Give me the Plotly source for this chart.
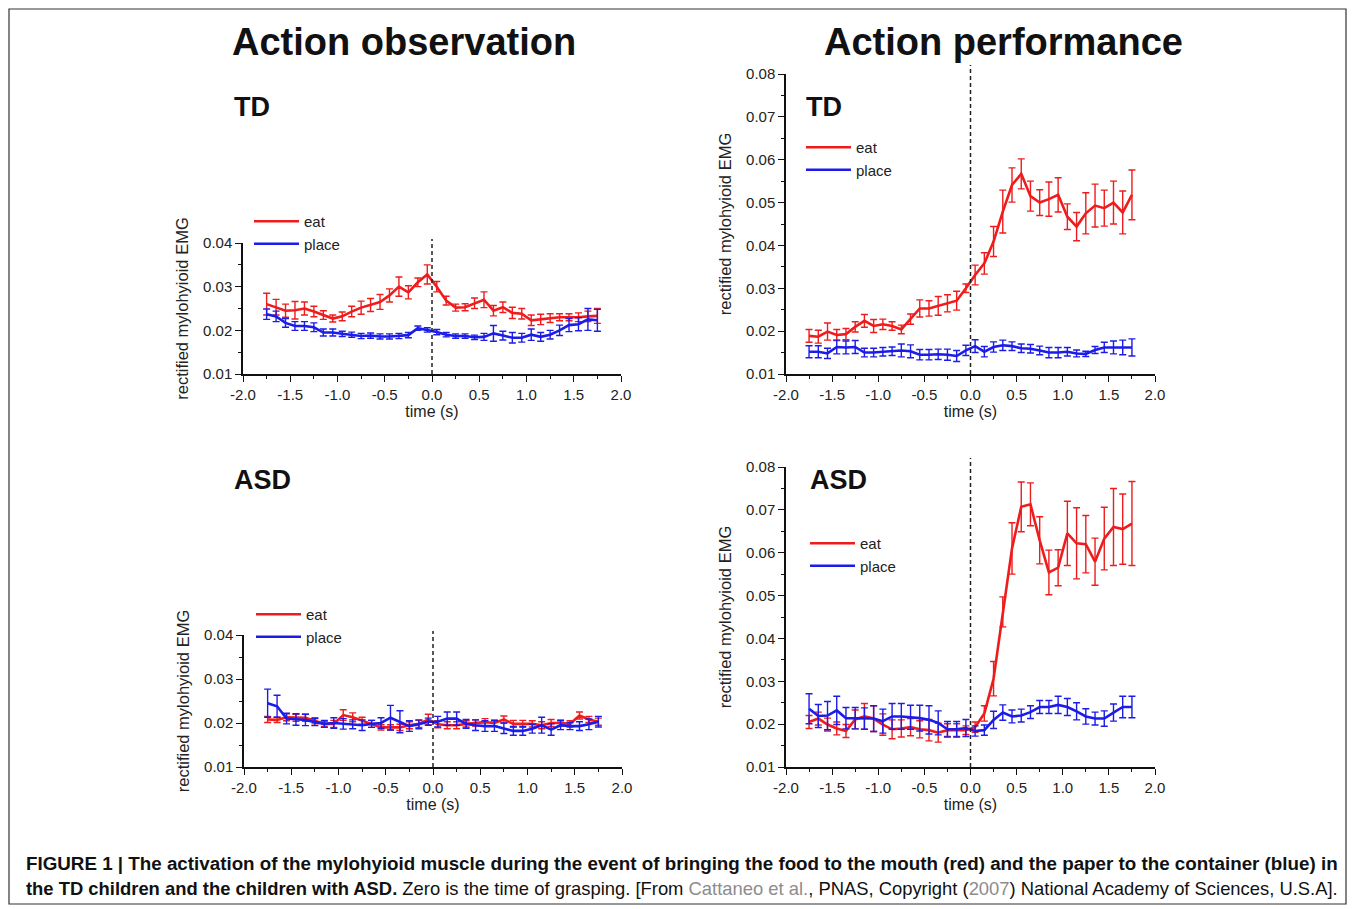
import plotly.graph_objects as go

# page is laid out with an 8px body margin, so the figure is sized to fit the window
OX, OY = 8, 8
FW, FH = 1339, 898
FONT = "Liberation Sans, Arial, sans-serif"
RED = "rgb(238,28,28)"
BLUE = "rgb(28,28,232)"

# ---------------- data ----------------
time_s = [-1.75, -1.65, -1.55, -1.45, -1.35, -1.25, -1.15, -1.05, -0.95, -0.85,
          -0.75, -0.65, -0.55, -0.45, -0.35, -0.25, -0.15, -0.05, 0.05, 0.15,
          0.25, 0.35, 0.45, 0.55, 0.65, 0.75, 0.85, 0.95, 1.05, 1.15,
          1.25, 1.35, 1.45, 1.55, 1.65, 1.75]

# Action observation - TD
obs_td_eat = [0.0260, 0.0253, 0.0245, 0.0246, 0.0250, 0.0243, 0.0235, 0.0227, 0.0232, 0.0243,
              0.0252, 0.0258, 0.0265, 0.0280, 0.0300, 0.0287, 0.0310, 0.0328, 0.0300, 0.0268,
              0.0252, 0.0253, 0.0262, 0.0270, 0.0245, 0.0253, 0.0240, 0.0238, 0.0223, 0.0225,
              0.0228, 0.0230, 0.0230, 0.0230, 0.0232, 0.0233]
obs_td_eat_err = [0.0025, 0.0018, 0.0015, 0.0020, 0.0015, 0.0012, 0.0010, 0.0008, 0.0010, 0.0012,
                  0.0015, 0.0015, 0.0017, 0.0015, 0.0022, 0.0015, 0.0010, 0.0022, 0.0012, 0.0010,
                  0.0008, 0.0008, 0.0012, 0.0018, 0.0012, 0.0012, 0.0013, 0.0012, 0.0012, 0.0012,
                  0.0010, 0.0008, 0.0008, 0.0010, 0.0012, 0.0017]
obs_td_place = [0.0237, 0.0232, 0.0217, 0.0210, 0.0210, 0.0207, 0.0195, 0.0195, 0.0192, 0.0190,
                0.0187, 0.0188, 0.0186, 0.0186, 0.0187, 0.0189, 0.0205, 0.0201, 0.0196, 0.0190,
                0.0187, 0.0187, 0.0184, 0.0185, 0.0193, 0.0188, 0.0183, 0.0183, 0.0190, 0.0185,
                0.0190, 0.0200, 0.0212, 0.0214, 0.0225, 0.0223]
obs_td_place_err = [0.0012, 0.0012, 0.0010, 0.0010, 0.0010, 0.0010, 0.0008, 0.0008, 0.0006, 0.0006,
                    0.0006, 0.0006, 0.0006, 0.0006, 0.0006, 0.0006, 0.0005, 0.0005, 0.0006, 0.0005,
                    0.0005, 0.0005, 0.0005, 0.0008, 0.0018, 0.0010, 0.0012, 0.0010, 0.0013, 0.0010,
                    0.0010, 0.0012, 0.0015, 0.0015, 0.0025, 0.0025]

# Action performance - TD
perf_td_eat = [0.0189, 0.0187, 0.0199, 0.0191, 0.0193, 0.0210, 0.0224, 0.0212, 0.0216, 0.0212,
               0.0204, 0.0228, 0.0253, 0.0253, 0.0259, 0.0265, 0.0271, 0.0300, 0.0331, 0.0358,
               0.0409, 0.0479, 0.0541, 0.0567, 0.0515, 0.0500, 0.0508, 0.0518, 0.0467, 0.0444,
               0.0475, 0.0493, 0.0487, 0.0500, 0.0477, 0.0518]
perf_td_eat_err = [0.0015, 0.0015, 0.0020, 0.0013, 0.0013, 0.0012, 0.0015, 0.0015, 0.0012, 0.0010,
                   0.0010, 0.0012, 0.0020, 0.0018, 0.0022, 0.0020, 0.0022, 0.0010, 0.0023, 0.0025,
                   0.0035, 0.0050, 0.0040, 0.0035, 0.0035, 0.0030, 0.0040, 0.0040, 0.0030, 0.0033,
                   0.0048, 0.0050, 0.0042, 0.0050, 0.0050, 0.0058]
perf_td_place = [0.0152, 0.0152, 0.0148, 0.0163, 0.0162, 0.0163, 0.0150, 0.0150, 0.0152, 0.0153,
                 0.0155, 0.0153, 0.0145, 0.0145, 0.0146, 0.0145, 0.0142, 0.0155, 0.0165, 0.0152,
                 0.0163, 0.0167, 0.0165, 0.0160, 0.0159, 0.0155, 0.0150, 0.0150, 0.0152, 0.0148,
                 0.0147, 0.0156, 0.0162, 0.0162, 0.0162, 0.0162]
perf_td_place_err = [0.0014, 0.0014, 0.0012, 0.0016, 0.0015, 0.0015, 0.0010, 0.0010, 0.0010, 0.0010,
                     0.0015, 0.0015, 0.0012, 0.0012, 0.0012, 0.0013, 0.0013, 0.0012, 0.0015, 0.0012,
                     0.0012, 0.0012, 0.0010, 0.0010, 0.0010, 0.0010, 0.0012, 0.0012, 0.0010, 0.0008,
                     0.0006, 0.0008, 0.0012, 0.0015, 0.0017, 0.0020]

# Action observation - ASD
obs_asd_eat = [0.0208, 0.0207, 0.0213, 0.0212, 0.0212, 0.0205, 0.0198, 0.0198, 0.0218, 0.0213,
               0.0205, 0.0198, 0.0190, 0.0190, 0.0190, 0.0195, 0.0198, 0.0208, 0.0197, 0.0195,
               0.0195, 0.0198, 0.0200, 0.0202, 0.0200, 0.0208, 0.0198, 0.0198, 0.0198, 0.0195,
               0.0200, 0.0200, 0.0198, 0.0217, 0.0208, 0.0203]
obs_asd_eat_err = [0.0007, 0.0006, 0.0008, 0.0008, 0.0008, 0.0007, 0.0006, 0.0008, 0.0012, 0.0010,
                   0.0008, 0.0008, 0.0006, 0.0006, 0.0007, 0.0008, 0.0008, 0.0012, 0.0008, 0.0008,
                   0.0008, 0.0007, 0.0007, 0.0008, 0.0007, 0.0008, 0.0008, 0.0008, 0.0007, 0.0008,
                   0.0008, 0.0007, 0.0007, 0.0008, 0.0007, 0.0008]
obs_asd_place = [0.0245, 0.0238, 0.0210, 0.0208, 0.0207, 0.0202, 0.0198, 0.0200, 0.0198, 0.0197,
                 0.0195, 0.0198, 0.0200, 0.0212, 0.0203, 0.0193, 0.0197, 0.0203, 0.0203, 0.0210,
                 0.0210, 0.0198, 0.0195, 0.0193, 0.0193, 0.0188, 0.0182, 0.0182, 0.0187, 0.0195,
                 0.0185, 0.0195, 0.0193, 0.0193, 0.0197, 0.0203]
obs_asd_place_err = [0.0032, 0.0025, 0.0012, 0.0013, 0.0013, 0.0008, 0.0008, 0.0012, 0.0012, 0.0010,
                     0.0012, 0.0008, 0.0012, 0.0028, 0.0025, 0.0012, 0.0010, 0.0008, 0.0012, 0.0015,
                     0.0015, 0.0010, 0.0012, 0.0012, 0.0012, 0.0012, 0.0010, 0.0010, 0.0010, 0.0018,
                     0.0013, 0.0010, 0.0008, 0.0010, 0.0012, 0.0012]

# Action performance - ASD
perf_asd_eat = [0.0205, 0.0213, 0.0199, 0.0190, 0.0184, 0.0211, 0.0218, 0.0213, 0.0199, 0.0188,
                0.0190, 0.0193, 0.0188, 0.0186, 0.0180, 0.0186, 0.0186, 0.0186, 0.0193, 0.0225,
                0.0306, 0.0462, 0.0610, 0.0707, 0.0713, 0.0629, 0.0554, 0.0565, 0.0645, 0.0622,
                0.0620, 0.0579, 0.0633, 0.0660, 0.0655, 0.0668]
perf_asd_eat_err = [0.0015, 0.0015, 0.0015, 0.0015, 0.0015, 0.0022, 0.0030, 0.0030, 0.0025, 0.0022,
                    0.0020, 0.0020, 0.0020, 0.0025, 0.0022, 0.0015, 0.0015, 0.0010, 0.0012, 0.0018,
                    0.0040, 0.0035, 0.0060, 0.0058, 0.0050, 0.0055, 0.0052, 0.0042, 0.0075, 0.0083,
                    0.0067, 0.0055, 0.0073, 0.0090, 0.0082, 0.0098]
perf_asd_place = [0.0236, 0.0219, 0.0220, 0.0232, 0.0214, 0.0214, 0.0213, 0.0213, 0.0207, 0.0218,
                  0.0218, 0.0216, 0.0214, 0.0210, 0.0203, 0.0188, 0.0188, 0.0191, 0.0184, 0.0186,
                  0.0210, 0.0227, 0.0218, 0.0220, 0.0228, 0.0240, 0.0240, 0.0245, 0.0240, 0.0230,
                  0.0218, 0.0213, 0.0213, 0.0227, 0.0240, 0.0240]
perf_asd_place_err = [0.0035, 0.0027, 0.0033, 0.0033, 0.0025, 0.0025, 0.0025, 0.0030, 0.0028, 0.0030,
                      0.0030, 0.0028, 0.0030, 0.0033, 0.0028, 0.0018, 0.0018, 0.0020, 0.0012, 0.0012,
                      0.0020, 0.0018, 0.0015, 0.0015, 0.0015, 0.0015, 0.0015, 0.0020, 0.0020, 0.0020,
                      0.0018, 0.0015, 0.0018, 0.0020, 0.0025, 0.0025]

x_tick_vals = [-2.0, -1.5, -1.0, -0.5, 0.0, 0.5, 1.0, 1.5, 2.0]
x_tick_labels = ["-2.0", "-1.5", "-1.0", "-0.5", "0.0", "0.5", "1.0", "1.5", "2.0"]
y_tick_vals_obs = [0.01, 0.02, 0.03, 0.04]
y_tick_labels_obs = ["0.01", "0.02", "0.03", "0.04"]
y_tick_vals_perf = [0.01, 0.02, 0.03, 0.04, 0.05, 0.06, 0.07, 0.08]
y_tick_labels_perf = ["0.01", "0.02", "0.03", "0.04", "0.05", "0.06", "0.07", "0.08"]

column_titles = ["Action observation", "Action performance"]
group_labels = ["TD", "ASD"]
series_names = ["eat", "place"]
x_title = "time (s)"
y_title = "rectified mylohyioid EMG"

# ---------------- layout helpers (window pixel -> paper fraction) ----------------
def fx(px):
    return (px - OX) / FW

def fy(py):
    return 1 - (py - OY) / FH

# panel pixel boxes: (left, right, top, bottom)
panels = [
    dict(box=(243, 621, 243, 374), ymax=0.04, data=(obs_td_eat, obs_td_eat_err, obs_td_place, obs_td_place_err),
         label=group_labels[0], label_xy=(252, 107), leg=(249, 205)),
    dict(box=(786, 1155, 74, 374), ymax=0.08, data=(perf_td_eat, perf_td_eat_err, perf_td_place, perf_td_place_err),
         label=group_labels[0], label_xy=(824, 107), leg=(801, 131)),
    dict(box=(244, 622, 635, 767), ymax=0.04, data=(obs_asd_eat, obs_asd_eat_err, obs_asd_place, obs_asd_place_err),
         label=group_labels[1], label_xy=(262, 480), leg=(251, 598)),
    dict(box=(786, 1155, 467, 767), ymax=0.08, data=(perf_asd_eat, perf_asd_eat_err, perf_asd_place, perf_asd_place_err),
         label=group_labels[1], label_xy=(838, 480), leg=(805, 527)),
]

fig = go.Figure()
layout = dict(
    width=FW, height=FH,
    margin=dict(l=0, r=0, t=0, b=0, autoexpand=False),
    paper_bgcolor="white", plot_bgcolor="white",
    font=dict(family=FONT, color="#222"),
    shapes=[], annotations=[],
)

for i, p in enumerate(panels):
    k = "" if i == 0 else str(i + 1)
    xa, ya = "x" + k, "y" + k
    leg = "legend" + k
    eat, eat_err, place, place_err = p["data"]
    for name, vals, err, col in ((series_names[0], eat, eat_err, RED), (series_names[1], place, place_err, BLUE)):
        fig.add_trace(go.Scatter(
            x=time_s, y=vals, mode="lines", name=name,
            line=dict(color=col, width=2.6),
            error_y=dict(type="data", array=err, visible=True, color=col, thickness=1.4, width=3.5),
            xaxis=xa, yaxis=ya, legend=leg,
        ))
    l, r, t, b = p["box"]
    is_perf = p["ymax"] > 0.05
    common = dict(showline=True, linecolor="#111", linewidth=1.5, ticks="outside", ticklen=6,
                  tickwidth=1.3, tickcolor="#111", showgrid=False, zeroline=False, automargin=False,
                  tickfont=dict(size=15, color="#222", family=FONT))
    layout["xaxis" + k] = dict(common, domain=[fx(l), fx(r)], range=[-2, 2], anchor=ya,
                               tickmode="array", tickvals=x_tick_vals, ticktext=x_tick_labels,
                               minor=dict(ticks="outside", ticklen=3, tickwidth=1.2, tickcolor="#111",
                                          dtick=0.25, tick0=-2, showgrid=False),
                               title=dict(text=x_title, font=dict(size=16, color="#222"), standoff=4))
    layout["yaxis" + k] = dict(common, domain=[fy(b), fy(t)], range=[0.01, p["ymax"]], anchor=xa,
                               tickmode="array",
                               tickvals=y_tick_vals_perf if is_perf else y_tick_vals_obs,
                               ticktext=y_tick_labels_perf if is_perf else y_tick_labels_obs,
                               minor=dict(ticks="outside", ticklen=3, tickwidth=1.2, tickcolor="#111",
                                          dtick=0.005, tick0=0.01, showgrid=False),
                               title=dict(text=y_title, font=dict(size=16.5, color="#222"), standoff=10))
    layout[leg] = dict(x=fx(p["leg"][0]), y=fy(p["leg"][1]), xanchor="left", yanchor="top",
                       bgcolor="rgba(0,0,0,0)", borderwidth=0, itemwidth=45,
                       font=dict(size=15, color="#222", family=FONT), tracegroupgap=0)
    # zero-time dashed line
    layout["shapes"].append(dict(type="line", xref=xa, yref=ya + " domain", x0=0, x1=0, y0=0, y1=1.03,
                                 line=dict(color="#222", width=1.5, dash="4px,3px")))
    layout["annotations"].append(dict(text="<b>%s</b>" % p["label"], x=fx(p["label_xy"][0]),
                                      y=fy(p["label_xy"][1]), xref="paper", yref="paper",
                                      xanchor="center", yanchor="middle", showarrow=False,
                                      font=dict(size=27, color="#111", family=FONT)))

# column titles
for txt, cx in zip(column_titles, (404, 1003)):
    layout["annotations"].append(dict(text="<b>%s</b>" % txt, x=fx(cx), y=fy(42), xref="paper", yref="paper",
                                      xanchor="center", yanchor="middle", showarrow=False,
                                      font=dict(size=38, color="#111", family=FONT)))

# caption
cap1 = ("<b>FIGURE 1 | The activation of the mylohyioid muscle during the event of bringing the food "
        "to the mouth (red) and the paper to the container (blue) in</b>")
cap2 = ("<b>the TD children and the children with ASD.</b> Zero is the time of grasping. [From "
        "<span style='color:#8c8c8c'>Cattaneo et al.</span>, PNAS, Copyright "
        "(<span style='color:#8c8c8c'>2007</span>) National Academy of Sciences, U.S.A].")
for txt, cy, fs in ((cap1, 863, 18.8), (cap2, 888, 18.4)):
    layout["annotations"].append(dict(text=txt, x=fx(24), y=fy(cy), xref="paper", yref="paper",
                                      xanchor="left", yanchor="middle", showarrow=False, align="left",
                                      font=dict(size=fs, color="#111", family=FONT)))

# outer frame
layout["shapes"].append(dict(type="rect", xref="paper", yref="paper", x0=fx(9), x1=fx(1346),
                             y0=fy(904), y1=fy(9), line=dict(color="#333", width=1.2)))

fig.update_layout(**layout)
fig.write_html("out.html")
